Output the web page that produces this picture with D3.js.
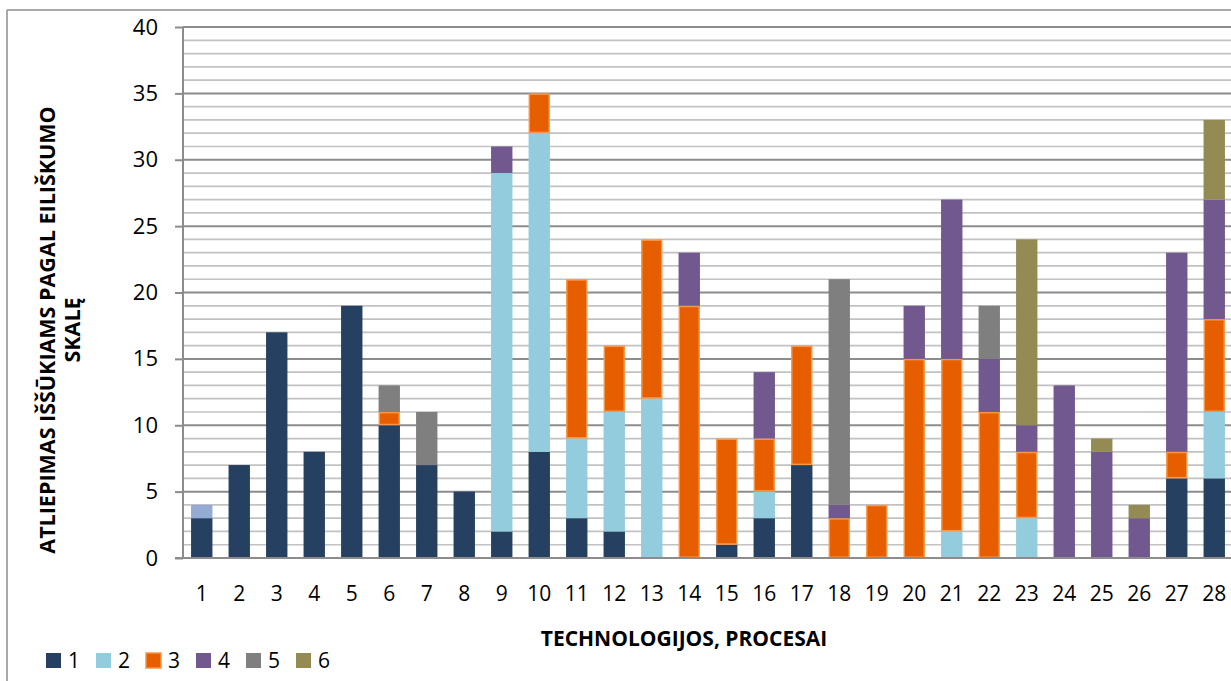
<!DOCTYPE html>
<html>
<head>
<meta charset="utf-8">
<script src="https://cdn.jsdelivr.net/npm/d3@7"></script>
<style>
  html, body { margin: 0; padding: 0; background: #fff; }
  svg { display: block; }
  text { font-family: "Open Sans", "Noto Sans", sans-serif; fill: #000; }
</style>
</head>
<body>
<svg id="chart" width="1231" height="681"></svg>
<script>
// Categories (technologies / processes)
const categories = ["1","2","3","4","5","6","7","8","9","10","11","12","13","14",
                    "15","16","17","18","19","20","21","22","23","24","25","26","27","28"];

// Stacked series values, one entry per category
const series1 = [3, 7, 17, 8, 19, 10, 7, 5, 2, 8, 3, 2, 0, 0, 1, 3, 7, 0, 0, 0, 0, 0, 0, 0, 0, 0, 6, 6];
const series2 = [1, 0, 0, 0, 0, 0, 0, 0, 27, 24, 6, 9, 12, 0, 0, 2, 0, 0, 0, 0, 2, 0, 3, 0, 0, 0, 0, 5];
const series3 = [0, 0, 0, 0, 0, 1, 0, 0, 0, 3, 12, 5, 12, 19, 8, 4, 9, 3, 4, 15, 13, 11, 5, 0, 0, 0, 2, 7];
const series4 = [0, 0, 0, 0, 0, 0, 0, 0, 2, 0, 0, 0, 0, 4, 0, 5, 0, 1, 0, 4, 12, 4, 2, 13, 8, 3, 15, 9];
const series5 = [0, 0, 0, 0, 0, 2, 4, 0, 0, 0, 0, 0, 0, 0, 0, 0, 0, 17, 0, 0, 0, 4, 0, 0, 0, 0, 0, 0];
const series6 = [0, 0, 0, 0, 0, 0, 0, 0, 0, 0, 0, 0, 0, 0, 0, 0, 0, 0, 0, 0, 0, 0, 14, 0, 1, 1, 0, 6];

const seriesNames = ["1", "2", "3", "4", "5", "6"];
const seriesValues = [series1, series2, series3, series4, series5, series6];
const seriesFill = ["#254061", "#93CDDD", "#E65E00", "#71588F", "#7F7F7F", "#948A54"];
const seriesStroke = [null, null, "#F79646", null, null, null];
// Single point drawn with its own fill (series 2, category 1)
const pointFill = { "2|1": "#95ABD3" };

const yTicks = [0, 5, 10, 15, 20, 25, 30, 35, 40];
const yMax = 40;

const rows = categories.map((c, i) => {
  const r = { cat: c };
  seriesNames.forEach((s, k) => { r[s] = seriesValues[k][i]; });
  return r;
});

const svg = d3.select("#chart");

// Chart frame
svg.append("line").attr("x1", 7).attr("x2", 1231).attr("y1", 10).attr("y2", 10)
  .attr("stroke", "#8C8C8C").attr("stroke-width", 1.5);
svg.append("line").attr("x1", 7).attr("x2", 7).attr("y1", 10).attr("y2", 681)
  .attr("stroke", "#8C8C8C").attr("stroke-width", 1.5);

const plot = { left: 183, top: 27, width: 1050, height: 531 };

const x = d3.scaleBand().domain(categories)
  .range([plot.left, plot.left + plot.width]).paddingInner(0.43).paddingOuter(0.215);
const y = d3.scaleLinear().domain([0, yMax]).range([plot.top + plot.height, plot.top]);

// Gridlines: minor every unit, major every five
const g = svg.append("g");
d3.range(1, yMax + 1).forEach(v => {
  const major = v % 5 === 0;
  g.append("line")
    .attr("x1", plot.left).attr("x2", plot.left + plot.width)
    .attr("y1", y(v)).attr("y2", y(v))
    .attr("stroke", major ? "#8C8C8C" : "#C2C2C2")
    .attr("stroke-width", major ? 2 : 1.7);
});

// Stacked bars
const stack = d3.stack().keys(seriesNames)(rows);
stack.forEach((layer, k) => {
  const inset = seriesStroke[k] ? 0.75 : 0;
  svg.append("g").selectAll("rect")
    .data(layer.filter(d => d[1] - d[0] > 0))
    .join("rect")
    .attr("x", d => x(d.data.cat) + inset)
    .attr("width", x.bandwidth() - 2 * inset)
    .attr("y", d => y(d[1]) + inset)
    .attr("height", d => y(d[0]) - y(d[1]) - 2 * inset)
    .attr("fill", d => pointFill[layer.key + "|" + d.data.cat] || seriesFill[k])
    .attr("stroke", seriesStroke[k] || "none")
    .attr("stroke-width", 1.5);
});

// Y axis
const yAxis = svg.append("g").attr("transform", `translate(${plot.left},0)`)
  .call(d3.axisLeft(y).tickValues(yTicks).tickSize(8).tickPadding(17));
yAxis.select(".domain").attr("stroke", "#8C8C8C").attr("stroke-width", 2)
  .attr("d", `M0,${plot.top}V${plot.top + plot.height}`);
yAxis.selectAll(".tick line").attr("stroke", "#8C8C8C").attr("stroke-width", 2);
yAxis.selectAll(".tick text").style("font-size", "22px").style("font-family", "'Open Sans', sans-serif").attr("fill", "#000");

// X axis
const xAxis = svg.append("g").attr("transform", `translate(0,${plot.top + plot.height})`)
  .call(d3.axisBottom(x).tickSize(0).tickPadding(28));
xAxis.select(".domain").attr("stroke", "#8C8C8C").attr("stroke-width", 2)
  .attr("d", `M${plot.left - 8},0H${plot.left + plot.width}`);
xAxis.selectAll(".tick text").style("font-size", "21px").style("font-family", "'Open Sans', sans-serif").attr("fill", "#000");

// Axis titles
svg.append("text").attr("x", 684).attr("y", 646).attr("text-anchor", "middle")
  .style("font-size", "21px").style("font-weight", "bold")
  .text("TECHNOLOGIJOS, PROCESAI");

const yTitle = svg.append("text")
  .attr("transform", "translate(0,330) rotate(-90)")
  .attr("text-anchor", "middle")
  .style("font-size", "21.5px").style("font-weight", "bold");
yTitle.append("tspan").attr("x", 0).attr("y", 55).text("ATLIEPIMAS IŠŠŪKIAMS PAGAL EILIŠKUMO");
yTitle.append("tspan").attr("x", 0).attr("y", 80).text("SKALĘ");

// Legend
const legend = svg.append("g");
seriesNames.forEach((s, k) => {
  const lx = 46 + k * 50;
  legend.append("rect").attr("x", lx).attr("y", 653).attr("width", 15).attr("height", 15)
    .attr("fill", seriesFill[k])
    .attr("stroke", seriesStroke[k] || "none").attr("stroke-width", 1.5);
  legend.append("text").attr("x", lx + 22).attr("y", 668)
    .style("font-size", "21px").text(s);
});
</script>
</body>
</html>
